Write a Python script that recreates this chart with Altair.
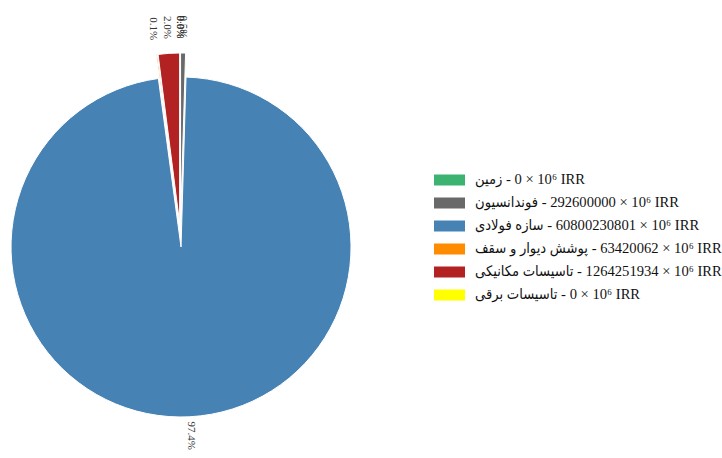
import altair as alt
import pandas as pd

names = ["زمین", "فوندانسیون", "سازه فولادی", "پوشش دیوار و سقف", "تاسیسات مکانیکی", "تاسیسات برقی"]
values = [0, 292600000, 60800230801, 63420062, 1264251934, 0]
colors = ["#3cb371", "#696969", "#4682b4", "#ff8c00", "#b22222", "#ffff00"]

labels = [f"{n}\u200e - {v} × 10⁶ IRR" for n, v in zip(names, values)]

df = pd.DataFrame({
    "order": list(range(len(names))),
    "name": names,
    "value": values,
    "label": labels,
})

CX, CY, EXPLODE, R = 180.4, 235, 12, 170
FONT = "Liberation Serif, DejaVu Sans Condensed, DejaVu Sans"

base = alt.Chart(df).transform_joinaggregate(
    total="sum(value)"
).transform_window(
    cum="sum(value)", sort=[alt.SortField("order")], frame=[None, 0]
).transform_calculate(
    a1="2*PI*datum.cum/datum.total",
    a0="2*PI*(datum.cum-datum.value)/datum.total",
    pct="datum.value/datum.total",
).transform_calculate(
    mid="(datum.a0+datum.a1)/2",
).transform_calculate(
    px=f"{CX}+{EXPLODE}*sin(datum.mid)",
    py=f"{CY}-{EXPLODE}*cos(datum.mid)",
    lr=f"cos(datum.mid) > 0 ? {R + 26} : {R + 19}",
).transform_calculate(
    lx="datum.px+datum.lr*sin(datum.mid)",
    ly="datum.py-datum.lr*cos(datum.mid)",
)

color = alt.Color(
    "label:N",
    scale=alt.Scale(domain=labels, range=colors),
    sort=labels,
    legend=alt.Legend(
        title=None,
        orient="none",
        legendX=434,
        legendY=164.5,
        symbolType="M-1,-0.355H1V0.355H-1Z",
        symbolSize=961,
        symbolStrokeWidth=0,
        symbolOpacity=1,
        labelFont=FONT,
        labelFontSize=14.6,
        labelColor="#111111",
        labelOffset=10,
        labelLimit=600,
        rowPadding=-11,
    ),
)

arcs = base.mark_arc(radius=R, stroke="white", strokeWidth=1).encode(
    theta=alt.Theta("a0:Q", scale=None, stack=None),
    theta2="a1:Q",
    x=alt.X("px:Q", scale=None, axis=None),
    y=alt.Y("py:Q", scale=None, axis=None),
    color=color,
)

texts = base.mark_text(
    angle=90, align="center", baseline="middle", font=FONT, fontSize=11, color="#333333"
).encode(
    x=alt.X("lx:Q", scale=None, axis=None),
    y=alt.Y("ly:Q", scale=None, axis=None),
    text=alt.Text("pct:Q", format=".1%"),
)

chart = alt.layer(arcs, texts).properties(
    width=722, height=458, autosize=alt.AutoSizeParams(type="none"), padding=0
).configure_view(strokeWidth=0)

chart.save("out.html", embed_options={"renderer": "svg", "actions": False})
